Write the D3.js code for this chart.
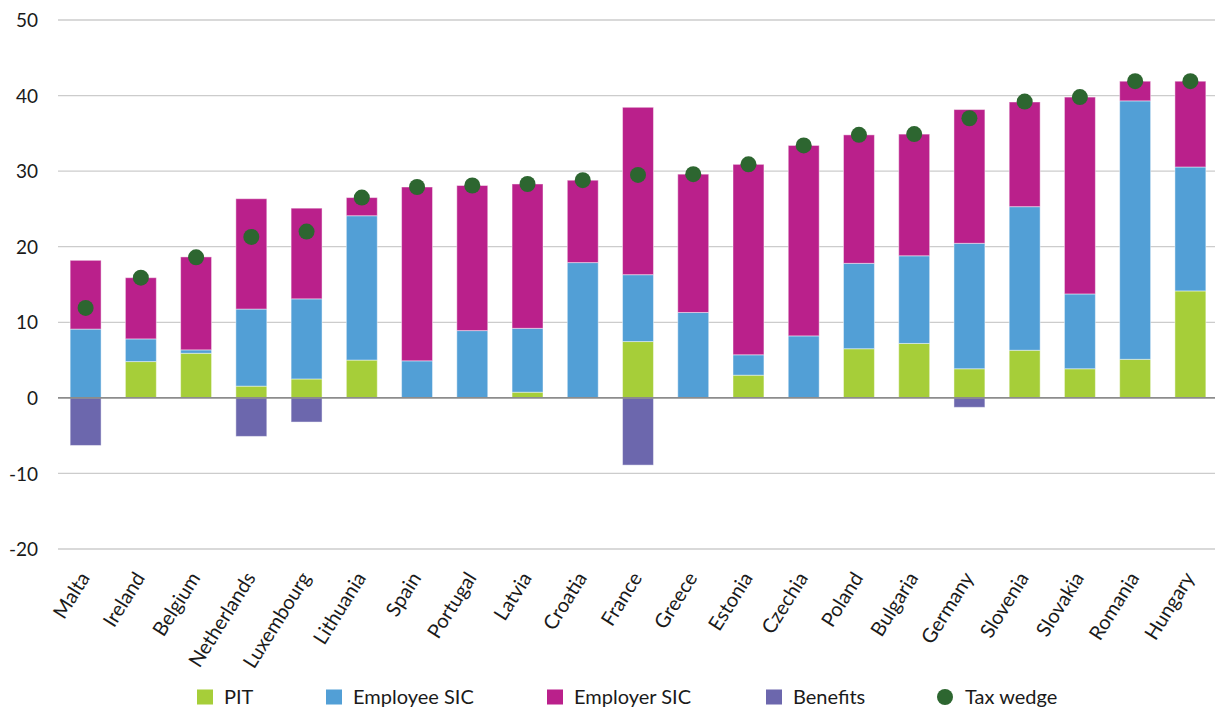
<!DOCTYPE html>
<html>
<head>
<meta charset="utf-8">
<script src="https://cdn.jsdelivr.net/npm/d3@7"></script>
<style>
  body { margin: 0; background: #fff; }
  text { font-family: Lato, "Open Sans", sans-serif; fill: #1a1a1a; }
</style>
</head>
<body>
<svg id="chart" width="1215" height="709"></svg>
<script>
// categories and series
const countries = ['Malta', 'Ireland', 'Belgium', 'Netherlands', 'Luxembourg', 'Lithuania', 'Spain',
  'Portugal', 'Latvia', 'Croatia', 'France', 'Greece', 'Estonia', 'Czechia', 'Poland', 'Bulgaria',
  'Germany', 'Slovenia', 'Slovakia', 'Romania', 'Hungary'];
const pit = [0, 4.8, 5.9, 1.55, 2.5, 5.0, 0, 0, 0.75, 0, 7.45, 0, 3.0, 0, 6.5, 7.2, 3.85, 6.3, 3.85, 5.1, 14.15];
const employeeSic = [9.1, 3.0, 0.45, 10.2, 10.6, 19.1, 4.9, 8.9, 8.45, 17.9, 8.85, 11.3, 2.7, 8.2, 11.3, 11.6, 16.6, 19.0, 9.9, 34.2, 16.4];
const employerSic = [9.1, 8.1, 12.3, 14.6, 12.0, 2.4, 23.0, 19.2, 19.1, 10.9, 22.15, 18.3, 25.2, 25.2, 17.0, 16.1, 17.7, 13.85, 26.05, 2.6, 11.35];
const benefits = [-6.3, 0, 0, -5.1, -3.2, 0, 0, 0, 0, 0, -8.9, 0, 0, 0, 0, 0, -1.25, 0, 0, 0, 0];
const taxWedge = [11.9, 15.9, 18.6, 21.3, 22.0, 26.5, 27.9, 28.1, 28.3, 28.8, 29.5, 29.6, 30.9, 33.4, 34.8, 34.9, 37.0, 39.2, 39.8, 41.9, 41.9];
const yTicks = [-20, -10, 0, 10, 20, 30, 40, 50];

const seriesKeys = ['PIT', 'Employee SIC', 'Employer SIC', 'Benefits'];
const colors = { 'PIT': '#a6ce39', 'Employee SIC': '#529fd6', 'Employer SIC': '#ba208b', 'Benefits': '#6c67ad', 'Tax wedge': '#2d6630' };

const rows = countries.map((c, i) => ({
  country: c, 'PIT': pit[i], 'Employee SIC': employeeSic[i], 'Employer SIC': employerSic[i], 'Benefits': benefits[i]
}));

const svg = d3.select('#chart');
const plotLeft = 58, plotRight = 1218, plotTop = 20, plotBottom = 549;

const x = d3.scaleBand().domain(countries).range([plotLeft, plotRight]).paddingInner(0.44).paddingOuter(0.22);
const y = d3.scaleLinear().domain([-20, 50]).range([plotBottom, plotTop]);

// gridlines
svg.append('g')
  .selectAll('line')
  .data(yTicks.filter(d => d !== 0))
  .enter()
  .append('line')
  .attr('x1', plotLeft).attr('x2', 1215)
  .attr('y1', d => y(d)).attr('y2', d => y(d))
  .attr('stroke', '#cccccc').attr('stroke-width', 1.3);

// y axis labels (plain hyphen for negatives, like the original)
const yAxis = svg.append('g')
  .attr('transform', 'translate(' + 38 + ',0)')
  .call(d3.axisLeft(y).tickValues(yTicks).tickFormat(d => String(d)).tickSize(0).tickPadding(0));
yAxis.select('.domain').remove();
yAxis.selectAll('text').style('font-size', '19px').attr('dy', '0.35em');

// stacked bars
const stack = d3.stack().keys(seriesKeys).offset(d3.stackOffsetDiverging);
const layers = stack(rows);

svg.append('g')
  .selectAll('g')
  .data(layers)
  .enter()
  .append('g')
  .attr('fill', d => colors[d.key])
  .selectAll('rect')
  .data(d => d.filter(p => p[1] !== p[0]))
  .enter()
  .append('rect')
  .attr('x', d => x(d.data.country))
  .attr('width', x.bandwidth())
  .attr('y', d => y(Math.max(d[0], d[1])))
  .attr('height', d => Math.abs(y(d[0]) - y(d[1])))
  .attr('stroke', 'rgba(255,255,255,0.45)')
  .attr('stroke-width', 1);

// zero line
svg.append('line')
  .attr('x1', plotLeft).attr('x2', 1215)
  .attr('y1', y(0)).attr('y2', y(0))
  .attr('stroke', '#8c8c8c').attr('stroke-width', 1.6);

// tax wedge dots
svg.append('g')
  .selectAll('circle')
  .data(taxWedge)
  .enter()
  .append('circle')
  .attr('cx', (d, i) => x(countries[i]) + x.bandwidth() / 2)
  .attr('cy', d => y(d))
  .attr('r', 8)
  .attr('fill', colors['Tax wedge']);

// x labels
svg.append('g')
  .selectAll('text')
  .data(countries)
  .enter()
  .append('text')
  .attr('text-anchor', 'end')
  .attr('dy', '0.35em')
  .style('font-size', '20px')
  .attr('transform', d => 'translate(' + (x(d) + x.bandwidth() / 2 - 1) + ',' + 574 + ') rotate(-58)')
  .text(d => d);

// legend
const legendItems = [
  { key: 'PIT', x: 197 },
  { key: 'Employee SIC', x: 326 },
  { key: 'Employer SIC', x: 547 },
  { key: 'Benefits', x: 766 },
  { key: 'Tax wedge', x: 937 }
];
const legend = svg.append('g')
  .selectAll('g')
  .data(legendItems)
  .enter()
  .append('g')
  .attr('transform', d => 'translate(' + d.x + ',' + 697 + ')');
legend.filter(d => d.key !== 'Tax wedge')
  .append('rect')
  .attr('x', 0).attr('y', -7.5).attr('width', 16).attr('height', 15)
  .attr('fill', d => colors[d.key]);
legend.filter(d => d.key === 'Tax wedge')
  .append('circle')
  .attr('cx', 8).attr('cy', 0).attr('r', 8)
  .attr('fill', colors['Tax wedge']);
legend.append('text')
  .attr('x', d => d.key === 'Tax wedge' ? 28 : 27)
  .attr('dy', '0.35em')
  .style('font-size', '20px')
  .text(d => d.key);
</script>
</body>
</html>
